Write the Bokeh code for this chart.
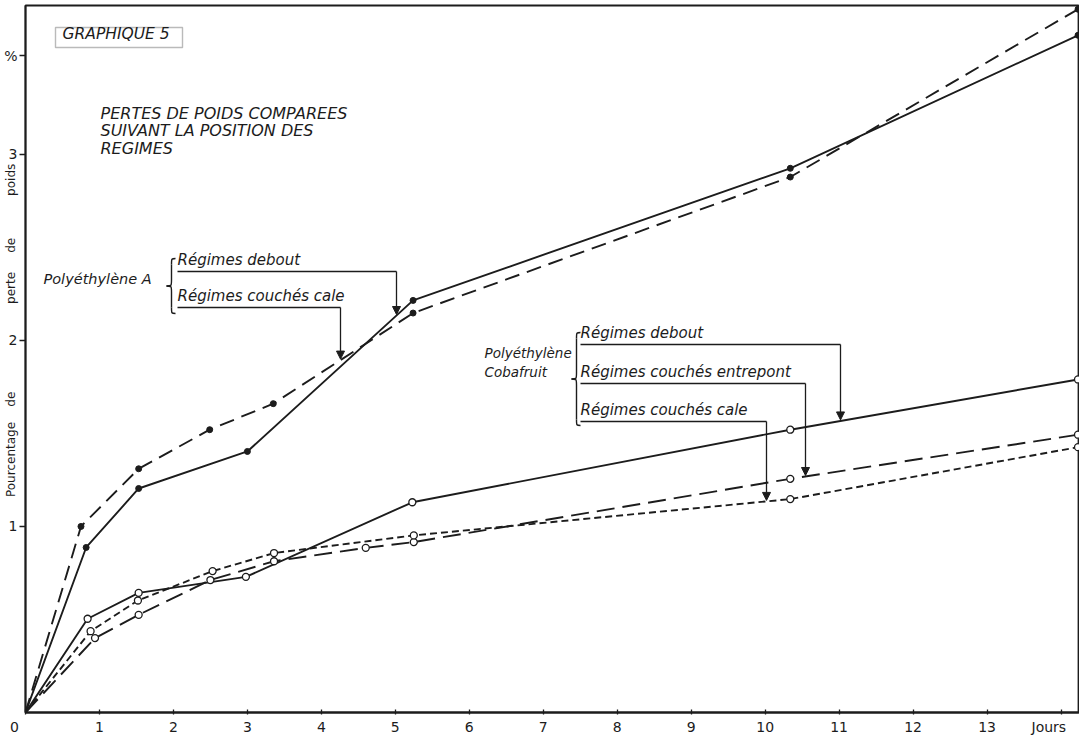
import numpy as np
from bokeh.plotting import figure
from bokeh.models import Label, Arrow, NormalHead, FixedTicker, Range1d, BoxAnnotation
from bokeh.embed import file_html
from bokeh.resources import INLINE

# ---------------- data (days, % weight loss) ----------------
pa_debout_days = [0, 0.82, 1.53, 3.0, 5.24, 10.34, 14.23]
pa_debout = [0, 0.887, 1.204, 1.403, 2.215, 2.925, 3.64]

pa_cale_days = [0, 0.75, 1.53, 2.49, 3.35, 5.24, 10.34, 14.23]
pa_cale = [0, 1.0, 1.31, 1.52, 1.66, 2.147, 2.878, 3.78]

cb_debout_days = [0, 0.84, 1.53, 2.98, 5.23, 10.34, 14.23]
cb_debout = [0, 0.504, 0.643, 0.729, 1.13, 1.52, 1.79]

cb_entrepont_days = [0, 0.94, 1.53, 2.5, 3.36, 4.6, 5.25, 10.34, 14.23]
cb_entrepont = [0, 0.40, 0.525, 0.712, 0.813, 0.885, 0.916, 1.256, 1.493]

cb_cale_days = [0, 0.88, 1.52, 2.53, 3.36, 5.25, 10.34, 14.23]
cb_cale = [0, 0.437, 0.602, 0.76, 0.857, 0.952, 1.147, 1.426]

NB = "\u00a0"
x_ticks = list(range(0, 15))
x_tick_labels = ["0" + NB * 5] + [str(i) for i in range(1, 14)] + ["Jours" + NB * 3]
y_ticks = [1, 2, 3, 3.53]
y_tick_labels = ["1", "2", "3", "%"]

y_words = ["Pourcentage", "de", "perte", "de", "poids"]
y_gaps = [4, 23, 5, 11]
y_label = NB * 15 + y_words[0] + "".join(NB * g + w for g, w in zip(y_gaps, y_words[1:]))

INK = "#1c1c1c"
FONT = "DejaVu Sans"

p = figure(width=1079, height=737, x_range=Range1d(0, 14.25), y_range=Range1d(0, 3.8),
           output_backend="svg", toolbar_location=None,
           min_border_left=25, min_border_right=0, min_border_top=5, min_border_bottom=0)
p.xgrid.visible = False
p.ygrid.visible = False
p.outline_line_color = INK
p.outline_line_width = 1.8
p.background_fill_color = "white"
p.border_fill_color = "white"

for ax in (p.xaxis[0], p.yaxis[0]):
    ax.axis_line_color = INK
    ax.axis_line_width = 1.8
    ax.major_tick_line_color = INK
    ax.major_tick_line_width = 1.3
    ax.minor_tick_line_color = None
    ax.major_label_text_font = FONT
    ax.major_label_text_font_size = "14px"
    ax.major_label_text_color = INK

p.xaxis.ticker = FixedTicker(ticks=x_ticks)
p.xaxis.major_label_overrides = {t: l for t, l in zip(x_ticks, x_tick_labels)}
p.xaxis.major_tick_in = 3
p.xaxis.major_tick_out = 2
p.xaxis.major_label_standoff = 4

p.yaxis.ticker = FixedTicker(ticks=y_ticks)
p.yaxis.major_label_overrides = {t: l for t, l in zip(y_ticks, y_tick_labels)}
p.yaxis.major_tick_in = 0
p.yaxis.major_tick_out = 6
p.yaxis.major_label_standoff = 2
p.yaxis.axis_label = y_label
p.yaxis.axis_label_text_font = FONT
p.yaxis.axis_label_text_font_size = "12px"
p.yaxis.axis_label_text_font_style = "normal"
p.yaxis.axis_label_text_color = INK
p.yaxis.axis_label_standoff = -17

# ---------------- series ----------------
LW = 1.9
p.line(pa_debout_days, pa_debout, line_color=INK, line_width=LW)
p.scatter(pa_debout_days[1:], pa_debout[1:], size=6, color=INK)

p.line(pa_cale_days, pa_cale, line_color=INK, line_width=LW, line_dash="15 8")
p.scatter(pa_cale_days[1:], pa_cale[1:], size=6, color=INK)

p.line(cb_debout_days, cb_debout, line_color=INK, line_width=LW)
p.scatter(cb_debout_days[1:], cb_debout[1:], size=7, line_color=INK, fill_color="white", line_width=1.3)

p.line(cb_entrepont_days, cb_entrepont, line_color=INK, line_width=LW, line_dash="18 8")
p.scatter(cb_entrepont_days[1:], cb_entrepont[1:], size=7, line_color=INK, fill_color="white", line_width=1.3)

p.line(cb_cale_days, cb_cale, line_color=INK, line_width=LW, line_dash="7 4")
p.scatter(cb_cale_days[1:], cb_cale[1:], size=7, line_color=INK, fill_color="white", line_width=1.3)

# ---------------- annotations ----------------
EX = 14.25 / 1054.0   # one pixel in x data units
EY = 3.8 / 707.0      # one pixel in y data units


def label(x, y, text, size="15px", style="italic", **kw):
    p.add_layout(Label(x=x, y=y, text=text, text_font=FONT, text_font_size=size,
                       text_font_style=style, text_color=INK, **kw))


def brace(xb, ytop, ybot):
    xr = xb + 4 * EX
    xp = xb - 5 * EX
    ym = (ytop + ybot) / 2
    r = 6 * EY
    p.bezier(x0=[xr, xb, xp, xb], y0=[ytop, ym + r, ym, ybot + r],
             x1=[xb, xp, xb, xr], y1=[ytop - r, ym, ym - r, ybot],
             cx0=[xb, xb, xb, xb], cy0=[ytop, ym, ym, ybot],
             cx1=[xb, xb, xb, xb], cy1=[ytop, ym, ym, ybot],
             line_color=INK, line_width=1.4)
    p.segment(x0=[xb, xb], y0=[ytop - r, ym - r], x1=[xb, xb], y1=[ym + r, ybot + r],
              line_color=INK, line_width=1.4)


def leader(text, x_text, y_line, x_arrow, days, vals, size="15px"):
    label(x_text, y_line + 3 * EY, text, size=size)
    p.segment(x0=[x_text], y0=[y_line], x1=[x_arrow], y1=[y_line], line_color=INK, line_width=1.3)
    tip = float(np.interp(x_arrow, days, vals))
    p.add_layout(Arrow(end=NormalHead(size=8, fill_color=INK, line_color=INK, line_width=1),
                       x_start=x_arrow, y_start=y_line, x_end=x_arrow, y_end=tip + 1 * EY,
                       line_color=INK, line_width=1.3))


# title box and title
p.add_layout(BoxAnnotation(left=30 * EX, right=157 * EX, top=685 * EY, bottom=665 * EY,
                           fill_alpha=0, line_color=INK, line_width=1.4))
label(37 * EX, 670 * EY, "GRAPHIQUE 5", size="15.5px")
label(75 * EX, 590 * EY, "PERTES DE POIDS COMPAREES", size="16px")
label(75 * EX, 572.5 * EY, "SUIVANT LA POSITION DES", size="16px")
label(75 * EX, 555 * EY, "REGIMES", size="16px")

# Polyethylene A
label(18 * EX, 426 * EY, "Polyéthylène A", size="14.5px")
brace(146 * EX, 454 * EY, 399 * EY)
leader("Régimes debout", 152 * EX, 441 * EY, 371 * EX, pa_debout_days, pa_debout)
leader("Régimes couchés cale", 152 * EX, 405 * EY, 315 * EX, pa_cale_days, pa_cale)

# Polyethylene Cobafruit
label(459 * EX, 352 * EY, "Polyéthylène", size="13.5px")
label(459 * EX, 333 * EY, "Cobafruit", size="13.5px")
brace(551 * EX, 380 * EY, 287 * EY)
leader("Régimes debout", 555 * EX, 368 * EY, 815 * EX, cb_debout_days, cb_debout)
leader("Régimes couchés entrepont", 555 * EX, 329 * EY, 780 * EX, cb_entrepont_days, cb_entrepont)
leader("Régimes couchés cale", 555 * EX, 291 * EY, 741 * EX, cb_cale_days, cb_cale)

open("out.html", "w").write(file_html(p, INLINE))
